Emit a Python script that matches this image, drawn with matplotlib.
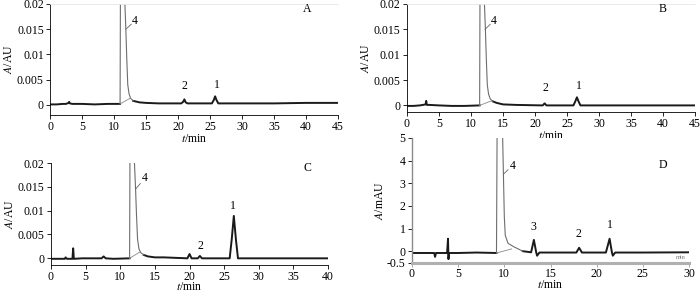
import matplotlib
matplotlib.use("Agg")
import matplotlib.pyplot as plt

plt.rcParams['font.family'] = ['Liberation Serif', 'DejaVu Serif']
plt.rcParams['mathtext.fontset'] = 'stix'
plt.rcParams['axes.unicode_minus'] = False

# ---------------- data ----------------
# Panel A (AU)
a_t = [0, 1, 2, 2.5, 2.9, 3.0, 3.1, 3.5, 5, 7, 9, 10.5, 10.95]
a_y = [0.0001, 0.0001, 0.0002, 0.0002, 0.0004, 0.0006, 0.0003, 0.0002, 0.0002, 0.0001, 0.0002, 0.0002, 0.0002]
a_pk_t = [10.95, 11.05, 11.6, 11.7, 11.85, 12.0, 12.15, 12.35, 12.6, 13.0]
a_pk_y = [0.0002, 0.04, 0.04, 0.02, 0.015, 0.009, 0.004, 0.0022, 0.0013, 0.0008]
a_t2 = [13.0, 14, 15, 17, 20.5, 20.8, 21.0, 21.2, 21.5, 25.3, 25.6, 25.8, 26.0, 26.3, 30, 35, 40, 45]
a_y2 = [0.0008, 0.0005, 0.0004, 0.0003, 0.0003, 0.0006, 0.0011, 0.0005, 0.0003, 0.0003, 0.001, 0.0017, 0.001, 0.0003, 0.0003, 0.0003, 0.0004, 0.0004]
a_int_t = [10.95, 12.5]
a_int_y = [0.0002, 0.0013]

# Panel B (AU)
b_t = [0, 1, 2, 2.5, 2.9, 3.0, 3.1, 3.5, 5, 7, 9, 11.35]
b_y = [-0.0001, -0.0001, 0.0, 0.0001, 0.0002, 0.0009, 0.0001, 0.0001, 0.0, -0.0001, -0.0001, 0.0]
b_pk_t = [11.35, 11.45, 12.0, 12.1, 12.25, 12.4, 12.55, 12.75, 13.0, 13.4]
b_pk_y = [0.0, 0.04, 0.04, 0.02, 0.015, 0.009, 0.004, 0.0022, 0.0013, 0.0008]
b_t2 = [13.4, 14, 15, 17, 21.2, 21.5, 21.8, 26.0, 26.3, 26.55, 26.8, 27.1, 30, 35, 40, 45]
b_y2 = [0.0008, 0.0005, 0.0002, 0.0001, 0.0, 0.0004, 0.0, 0.0, 0.0008, 0.0016, 0.0008, 0.0, 0.0, 0.0, 0.0, 0.0]
b_int_t = [11.35, 13.2]
b_int_y = [0.0, 0.0009]

# Panel C (AU)
c_t = [0, 1, 2.0, 2.1, 2.3, 3.1, 3.2, 3.3, 4.5, 7.3, 7.6, 7.9, 9, 11.35]
c_y = [-0.0001, -0.0001, -0.0001, 0.0002, -0.0001, -0.0001, 0.0021, -0.0001, 0.0, 0.0, 0.0004, 0.0, -0.0001, 0.0]
c_pk_t = [11.35, 11.45, 11.95, 12.05, 12.2, 12.35, 12.5, 12.7, 12.95, 13.4]
c_pk_y = [0.0, 0.04, 0.04, 0.02, 0.015, 0.009, 0.004, 0.002, 0.0012, 0.0007]
c_t2 = [13.4, 14, 15, 16.3, 19.7, 20.0, 20.3, 21.2, 21.5, 21.8, 25.8, 26.1, 26.4, 26.7, 27.0, 30, 35, 40]
c_y2 = [0.0007, 0.0004, 0.0002, 0.0002, 0.0, 0.0009, 0.0, 0.0, 0.0005, 0.0, 0.0, 0.004, 0.0089, 0.004, 0.0, 0.0, 0.0, 0.0]
c_int_t = [11.35, 12.8]
c_int_y = [0.0, 0.0013]

# Panel D (mAU)
d_t = [0, 1, 2.4, 2.5, 2.6, 3.8, 3.9, 3.95, 4.0, 5, 7, 9.15]
d_y = [-0.08, -0.08, -0.08, -0.25, -0.08, -0.08, 0.55, -0.35, -0.08, -0.08, -0.06, -0.08]
d_pk_t = [9.15, 9.25, 9.75, 9.82, 9.9, 10.0, 10.1, 10.4, 11.0, 12.0]
d_pk_y = [-0.08, 8.0, 8.0, 5.0, 3.4, 1.5, 0.7, 0.35, 0.2, 0.0]
d_t2 = [12.0, 12.9, 13.2, 13.45, 13.55, 13.8, 17.8, 18.1, 18.4, 21.0, 21.4, 21.65, 21.75, 22.0, 25, 30]
d_y2 = [0.0, -0.05, 0.5, -0.05, -0.2, -0.06, -0.06, 0.15, -0.06, -0.06, 0.55, -0.05, -0.2, -0.06, -0.06, -0.05]
d_int_t = [9.15, 10.8]
d_int_y = [-0.08, 0.1]

panels = [
    dict(name='A', rect=[50/700, 1-115/293, 288/700, 111/293], xlim=(0, 45), ylim=(-0.002, 0.02),
         xt=list(range(0, 46, 5)), yt=[0, 0.005, 0.01, 0.015, 0.02],
         ytl=['0', '0.005', '0.01', '0.015', '0.02'], ylab=r'$\mathit{A}$/AU',
         base=[(a_t, a_y), (a_t2, a_y2)], pk=(a_pk_t, a_pk_y), integ=(a_int_t, a_int_y),
         lead=((11.85, 0.015), (12.7, 0.016)), labels=[('4', 13.3, 0.0155), ('2', 21.0, 0.0025), ('1', 26.0, 0.0028)],
         tag=(40.2, 0.019), top=True, xpad=0),
    dict(name='B', rect=[407/700, 1-112/293, 288/700, 108/293], xlim=(0, 45), ylim=(-0.0013, 0.02),
         xt=list(range(0, 46, 5)), yt=[0, 0.005, 0.01, 0.015, 0.02],
         ytl=['0', '0.005', '0.01', '0.015', '0.02'], ylab=r'$\mathit{A}$/AU',
         base=[(b_t, b_y), (b_t2, b_y2)], pk=(b_pk_t, b_pk_y), integ=(b_int_t, b_int_y),
         lead=((12.2, 0.015), (13.0, 0.016)), labels=[('4', 13.6, 0.0155), ('2', 21.7, 0.0022), ('1', 26.8, 0.0027)],
         tag=(40.0, 0.019), top=True, xpad=0),
    dict(name='C', rect=[51/700, 1-265/293, 277/700, 102/293], xlim=(0, 40), ylim=(-0.0014, 0.02),
         xt=list(range(0, 41, 5)), yt=[0, 0.005, 0.01, 0.015, 0.02],
         ytl=['0', '0.005', '0.01', '0.015', '0.02'], ylab=r'$\mathit{A}$/AU',
         base=[(c_t, c_y), (c_t2, c_y2)], pk=(c_pk_t, c_pk_y), integ=(c_int_t, c_int_y),
         lead=((12.2, 0.0145), (12.9, 0.0157)), labels=[('4', 13.6, 0.0155), ('2', 21.6, 0.0013), ('1', 26.3, 0.0098)],
         tag=(37.0, 0.019), top=False, xpad=-1),
    dict(name='D', rect=[412/700, 1-262.5/293, 277/700, 124.5/293], xlim=(0, 30), ylim=(-0.5, 5),
         xt=list(range(0, 31, 5)), yt=[-0.5, 0, 1, 2, 3, 4, 5],
         ytl=['-0.5', '0', '1', '2', '3', '4', '5'], ylab=r'$\mathit{A}$/mAU',
         base=[(d_t, d_y), (d_t2, d_y2)], pk=(d_pk_t, d_pk_y), integ=(d_int_t, d_int_y),
         lead=((9.9, 3.4), (10.4, 3.6)), labels=[('4', 10.9, 3.5), ('3', 13.1, 0.8), ('2', 18.05, 0.5), ('1', 21.45, 0.9)],
         tag=(27.2, 3.8), top=False, xpad=-1),
]

fig = plt.figure(figsize=(7.0, 2.93), dpi=100)
fs = 8.5

for p in panels:
    ax = fig.add_axes(p['rect'])
    for tt, yy in p['base']:
        ax.plot(tt, yy, color='#1a1a1a', lw=1.4, solid_joinstyle='round')
    ax.plot(p['pk'][0], p['pk'][1], color='#6e6e6e', lw=0.8)
    ax.plot(p['integ'][0], p['integ'][1], color='#8a8a8a', lw=0.6)
    (x0, y0), (x1, y1) = p['lead']
    ax.plot([x0, x1], [y0, y1], color='#666666', lw=0.6)
    for s, x, y in p['labels']:
        ax.text(x, y, s, fontsize=fs, ha='center', va='bottom')
    ax.text(p['tag'][0], p['tag'][1], p['name'], fontsize=fs, ha='center', va='center')
    ax.set_xlim(*p['xlim'])
    ax.set_ylim(*p['ylim'])
    ax.set_xticks(p['xt'])
    ax.set_xticklabels([str(v) for v in p['xt']], fontsize=fs)
    ax.set_yticks(p['yt'])
    ax.set_yticklabels(p['ytl'], fontsize=fs)
    ax.tick_params(direction='out', length=3, width=0.6, pad=1.5)
    ax.tick_params(axis='x', pad=1)
    ax.spines['right'].set_visible(False)
    if p['top']:
        ax.spines['top'].set_color('#e6e6e6')
        ax.spines['top'].set_linewidth(0.6)
    else:
        ax.spines['top'].set_visible(False)
    if p['name'] == 'D':
        ax.spines['bottom'].set_color('#b0b0b0')
        ax.spines['bottom'].set_linewidth(2.2)
        ax.spines['left'].set_color('#8a8a8a')
        ax.spines['left'].set_linewidth(1.0)
        ax.tick_params(axis='x', color='#999999')
        ax.text(29.6, -0.3, 'min', fontsize=4.5, color='#777777', ha='right', va='center')
    else:
        ax.spines['bottom'].set_linewidth(0.6)
        ax.spines['left'].set_linewidth(0.6)
    ax.set_xlabel(r'$\mathit{t}$/min', fontsize=fs, labelpad=p['xpad'])
    ax.set_ylabel(p['ylab'], fontsize=fs, labelpad=1)

fig.savefig('out.png', dpi=100)
